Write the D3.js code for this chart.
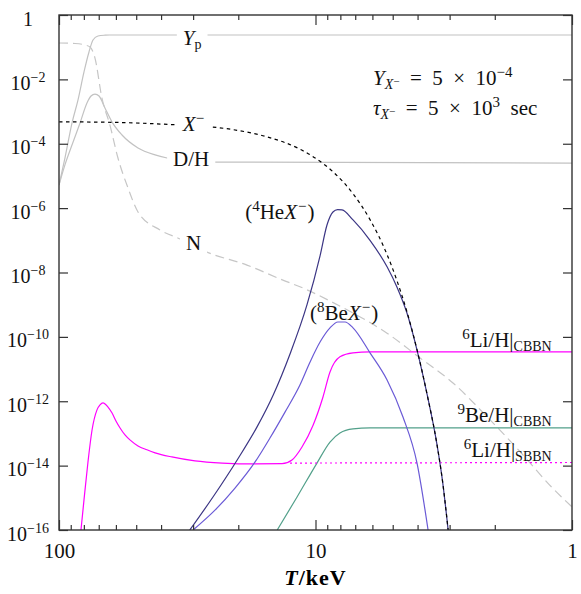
<!DOCTYPE html>
<html lang="en">
<head>
<meta charset="utf-8">
<title>CBBN abundances</title>
<script src="https://cdn.jsdelivr.net/npm/d3@7"></script>
<style>
  body { margin: 0; background: #fff; }
</style>
</head>
<body>
<div id="chart"></div>
<script>
// every series: [T in keV, abundance]
var ypData = [[100,5.2e-6],[94.8,3.6e-5],[89,4.4e-4],[84.3,2.3e-3],[79.9,1.7e-2],[76.4,7.1e-2],
  [73.7,0.167],[70.5,0.223],[66.2,0.236],[63.3,0.239],[1,0.239]];
var dhData = [[100,5.2e-6],[94.8,2.2e-5],[89,9.1e-5],[82.8,4.4e-4],[77.8,1.85e-3],[75,3.05e-3],
  [72.4,3.5e-3],[69.8,3.05e-3],[66.2,1.3e-3],[62.1,4.7e-4],[56.8,1.87e-4],[49.2,7.4e-5],
  [42.2,4.5e-5],[37.9,3.6e-5],[28.2,2.7e-5],[1,2.5e-5]];
var nData = [[100,0.135],[86.6,0.13],[79.2,0.117],[75.7,0.101],[72.4,0.046],[68.0,2.6e-3],
  [63.3,3.8e-4],[58.9,3.6e-5],[53.8,4.2e-6],[49.2,7.6e-7],[40.4,2.1e-7],[33.7,1.1e-7],
  [26.5,4.3e-8],[18.5,1.7e-8],[13.75,6.3e-9],[10.79,2.9e-9],[8.78,1.3e-9],[7.14,5.5e-10],
  [5.26,1.3e-10],[3.91,2.2e-11],[2.91,3.7e-12],[2.14,3.25e-13],[1.59,2.65e-14],[1.19,2.0e-15],[1,5.2e-16]];
var xData = [[100,4.8e-4],[60,4.6e-4],[35.3,3.9e-4],[27.4,3.5e-4],[21,2.75e-4],[15.5,1.65e-4],
  [11.5,6.8e-5],[9.87,3.3e-5],[8.55,1.35e-5],[7.14,2.8e-6],[6.13,4.4e-7],[5.26,3.6e-8],
  [4.81,5.5e-9],[4.40,6e-10],[4.02,4e-11],[3.67,1.6e-12],[3.36,4.5e-14],[3.2,3.5e-15],[3.04,1e-16]];
var he4Data = [[30.9,1e-16],[25.1,1.06e-15],[20.2,1.5e-14],[16.9,1.6e-13],[14.6,1.6e-12],
  [12.57,2.95e-11],[10.79,1e-9],[9.6,3.3e-8],[9.02,3e-7],[8.55,7.6e-7],[8.2,9.0e-7],[7.88,8.8e-7],
  [7.14,4.3e-7],[6.13,1.0e-7],[5.26,1.5e-8],[4.81,3.5e-9],[4.40,5.5e-10],[4.02,3.9e-11],
  [3.67,1.6e-12],[3.36,4.5e-14],[3.2,3.5e-15],[3.04,1e-16]];
var be8Data = [[30,1e-16],[24.6,4.2e-16],[20.6,2.0e-15],[17.2,1.3e-14],[15.05,7.2e-14],
  [13.15,4.6e-13],[11.5,3.2e-12],[10.5,1.66e-11],[9.6,6.9e-11],[8.78,1.9e-10],[8.18,2.9e-10],
  [7.67,2.9e-10],[7.14,1.9e-10],[6.13,3.2e-11],[5.26,4.6e-12],[4.56,3.25e-13],[4.02,1.2e-14],[3.64,1e-16]];
var li6Data = [[82.1,1e-16],[79.9,8.6e-16],[77.1,1.3e-14],[74.3,1.3e-13],[71.1,5.4e-13],
  [69.2,7.7e-13],[67.4,8.9e-13],[64.4,6.6e-13],[62.1,4.3e-13],[59.9,2.4e-13],[57.8,1.48e-13],
  [55.3,9.0e-14],[52.9,6.3e-14],[49.2,4.1e-14],[45.4,3.1e-14],[42.2,2.5e-14],
  [36.3,1.86e-14],[29.5,1.4e-14],[23.1,1.2e-14],[17.2,1.13e-14],[13.5,1.15e-14],[12.35,1.5e-14],
  [11.29,3.8e-14],[10.22,1.8e-13],[9.35,1.36e-12],[8.78,8.1e-12],[8.03,2.4e-11],[7.14,3.2e-11],
  [6.13,3.4e-11],[1,3.4e-11]];
var li6SbbnData = [[12.57,1.2e-14],[1,1.25e-14]];
var be9Data = [[14.1,1e-16],[11.8,1.06e-15],[9.87,1.2e-14],[8.78,5.4e-14],[8.03,1.03e-13],
  [7.14,1.38e-13],[6.13,1.48e-13],[1,1.48e-13]];

var xMajor = [100, 10, 1];
var xMinor = [90,80,70,60,50,40,30,20,9,8,7,6,5,4,3,2];
var yExp = [0,-2,-4,-6,-8,-10,-12,-14,-16];

var serif = "Liberation Serif, DejaVu Serif, Noto Serif, Times New Roman, serif";
var width = 581, height = 594;
var margin = {left: 59, right: 9, top: 15, bottom: 64};
var svg = d3.select("#chart").append("svg").attr("width", width).attr("height", height)
  .attr("font-family", serif);

var x = d3.scaleLog().domain([100, 1]).range([margin.left, width - margin.right]);
var y = d3.scaleLog().domain([1e-16, 1]).range([height - margin.bottom, margin.top]);

svg.append("clipPath").attr("id", "clip").append("rect")
  .attr("x", x(100)).attr("y", y(1))
  .attr("width", x(1) - x(100)).attr("height", y(1e-16) - y(1));

var line = d3.line()
  .x(function(d) {return x(d[0]);})
  .y(function(d) {return y(d[1]);})
  .curve(d3.curveMonotoneX);

var series = [
  {data: dhData, color: "#c2c2c2", dash: null},
  {data: ypData, color: "#c2c2c2", dash: null},
  {data: nData, color: "#c6c6c6", dash: "9,5"},
  {data: be9Data, color: "#52a08a", dash: null},
  {data: li6Data, color: "#ff00ff", dash: null},
  {data: li6SbbnData, color: "#ff00ff", dash: "2,3"},
  {data: be8Data, color: "#6a5ad6", dash: null},
  {data: he4Data, color: "#3b3584", dash: null},
  {data: xData, color: "#000", dash: "3.5,3.5"}
];

var plot = svg.append("g").attr("clip-path", "url(#clip)");
plot.selectAll("path").data(series).join("path")
  .attr("d", function(d) {return line(d.data);})
  .attr("fill", "none")
  .attr("stroke", function(d) {return d.color;})
  .attr("stroke-width", 1.2)
  .attr("stroke-dasharray", function(d) {return d.dash;});

// rich text: parts are [text, kind], kind in n, i, sup, sub, subi, ssup
function rich(g, T, v, parts, anchor, bg) {
  var t = g.append("text").attr("x", x(T)).attr("y", y(v))
    .attr("font-family", serif).attr("fill", "#111")
    .attr("font-size", 21).attr("text-anchor", anchor || "start");
  var cur = 0;
  parts.forEach(function(p) {
    var kind = p[1] || "n";
    var shift = 0, size = null;
    if (kind == "sup") {shift = -8; size = 15;}
    if (kind == "sub" || kind == "subi") {shift = 4; size = 14;}
    if (kind == "ssup") {shift = 0; size = 11;}
    var ts = t.append("tspan").text(p[0]).attr("dy", shift - cur);
    if (size) ts.attr("font-size", size);
    if (kind == "i" || kind == "subi") ts.attr("font-style", "italic");
    if (p[2]) ts.attr("dx", p[2]);
    cur = shift;
  });
  if (bg) {
    var b = t.node().getBBox();
    g.insert("rect", function() {return t.node();})
      .attr("x", b.x - 6).attr("y", b.y).attr("width", b.width + 12).attr("height", b.height)
      .attr("fill", "#fff");
  }
  return t;
}

var labels = svg.append("g");
rich(labels, 32.9, 0.117, [["Y","i"],["p","sub"]], "start", true);
rich(labels, 32.9, 2.5e-4, [["X","i"],["\u2212","sup"]], "start", true);
rich(labels, 35.9, 2.0e-5, [["D/H"]], "start", true);
rich(labels, 32.0, 5.0e-8, [["N"]], "start", true);
rich(labels, 18.8, 4.6e-7, [["("],["4","sup"],["He"],["X","i"],["\u2212","sup",1],[")",null,1]]);
rich(labels, 10.5, 3.35e-10, [["("],["8","sup"],["Be"],["X","i"],["\u2212","sup",1],[")",null,1]]);
rich(labels, 1.2, 4.9e-11, [["6","sup"],["Li/H|"],["CBBN","sub"]], "end");
rich(labels, 1.2, 2.3e-13, [["9","sup"],["Be/H|"],["CBBN","sub"]], "end");
rich(labels, 1.2, 1.86e-14, [["6","sup"],["Li/H|"],["SBBN","sub"]], "end");
rich(labels, 5.97, 6.7e-3, [["Y","i"],["X","subi"],["\u2212","ssup"],["  =  5  \u00d7  10"],["\u22124","sup"]]);
rich(labels, 5.97, 7.8e-4, [["\u03c4","i"],["X","subi"],["\u2212","ssup"],["  =  5  \u00d7  10"],["3","sup"],["  sec"]]);
labels.selectAll("text").attr("xml:space", "preserve");

// frame and ticks
var axisColor = "#333";
function styleAxis(g) {
  g.attr("font-family", serif);
  g.select(".domain").remove();
  g.selectAll("line").attr("stroke", axisColor).attr("stroke-width", 1.2);
}
var yb = y(1e-16), yt = y(1), xl = x(100), xr = x(1);

svg.append("g").attr("transform", "translate(0," + yb + ")")
  .call(d3.axisBottom(x).tickValues(xMinor).tickSize(-5).tickFormat(""))
  .call(styleAxis);
svg.append("g").attr("transform", "translate(0," + yt + ")")
  .call(d3.axisTop(x).tickValues(xMinor).tickSize(-5).tickFormat(""))
  .call(styleAxis);
svg.append("g").attr("transform", "translate(0," + yt + ")")
  .call(d3.axisTop(x).tickValues(xMajor).tickSize(-10).tickFormat(""))
  .call(styleAxis);
var xAx = svg.append("g").attr("transform", "translate(0," + yb + ")")
  .call(d3.axisBottom(x).tickValues(xMajor).tickSize(-10).tickPadding(13)
    .tickFormat(function(d) {return String(d);}))
  .call(styleAxis);
xAx.selectAll("text").attr("font-size", 21).attr("fill", "#111").attr("font-family", serif);

var yTicks = yExp.map(function(e) {return Math.pow(10, e);});
svg.append("g").attr("transform", "translate(" + xr + ",0)")
  .call(d3.axisRight(y).tickValues(yTicks).tickSize(-9).tickFormat(""))
  .call(styleAxis);
var yAx = svg.append("g").attr("transform", "translate(" + xl + ",0)")
  .call(d3.axisLeft(y).tickValues(yTicks).tickSize(-9).tickFormat(""))
  .call(styleAxis);
yAx.selectAll(".tick").each(function(d, i) {
  var e = yExp[i];
  var t = d3.select(this).select("text")
    .attr("x", 28 - xl).attr("y", 10).attr("dy", null).attr("font-family", serif)
    .attr("text-anchor", "middle").attr("font-size", 20).attr("fill", "#111");
  if (e == 0) { t.text("1"); return; }
  t.append("tspan").text("10");
  t.append("tspan").text("\u2212" + (-e)).attr("dy", -8).attr("font-size", 14);
});

svg.append("rect").attr("x", xl).attr("y", yt).attr("width", xr - xl).attr("height", yb - yt)
  .attr("fill", "none").attr("stroke", axisColor).attr("stroke-width", 1.4);

var title = svg.append("text").attr("x", x(10)).attr("y", yb + 55).attr("font-family", serif)
  .attr("text-anchor", "middle").attr("font-size", 22).attr("font-weight", "bold")
  .attr("letter-spacing", 1);
title.append("tspan").text("T").attr("font-style", "italic");
title.append("tspan").text("/keV");
</script>
</body>
</html>
